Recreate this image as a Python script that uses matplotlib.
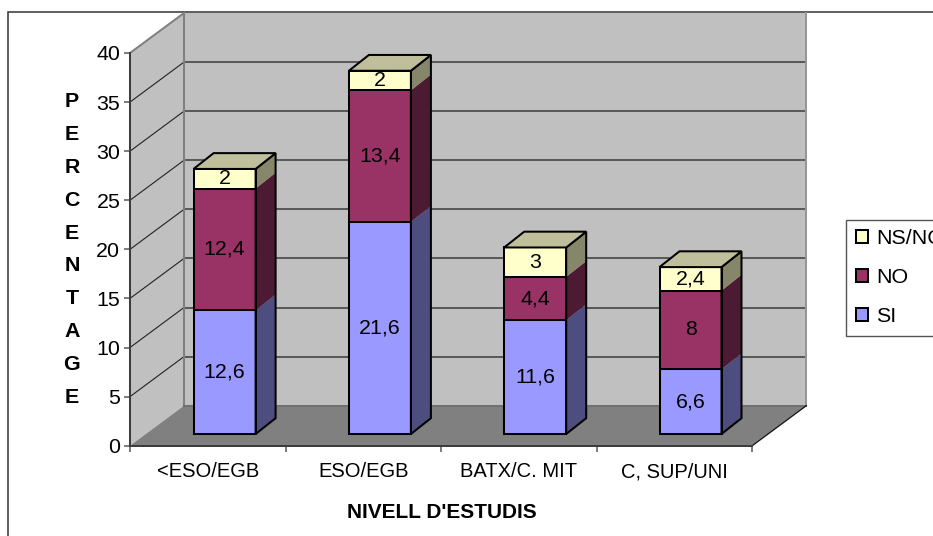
import matplotlib
matplotlib.use("Agg")
import matplotlib.pyplot as plt
from matplotlib.patches import Polygon, Rectangle, Patch

categories = ["<ESO/EGB", "ESO/EGB", "BATX/C. MIT", "C, SUP/UNI"]
si = [12.6, 21.6, 11.6, 6.6]
no = [12.4, 13.4, 4.4, 8]
ns_nc = [2, 2, 3, 2.4]
y_ticks = [0, 5, 10, 15, 20, 25, 30, 35, 40]

W, H = 933, 536
plt.rcParams["font.family"] = ["Liberation Sans", "DejaVu Sans"]
FS = 15.4
FS_CAT = 14.5
LW = 1.45

fig = plt.figure(figsize=(W / 100, H / 100), dpi=100)
# front plane of the 3d box, in pixels
x0, x1 = 130, 752.3
y0, y1 = 445.7, 53
ax = fig.add_axes([x0 / W, 1 - y0 / H, (x1 - x0) / W, (y0 - y1) / H])
ax.set_xlim(0, 4)
ax.set_ylim(0, 40)
ax.patch.set_visible(False)

px_x = 4 / (x1 - x0)
px_y = 40 / (y0 - y1)
dx, dy = 54 * px_x, 40 * px_y  # box depth


def poly(pts, **kw):
    kw.setdefault("clip_on", False)
    p = Polygon(pts, closed=True, **kw)
    ax.add_patch(p)
    return p


# walls and floor
poly([(0, 0), (dx, dy), (dx, 40 + dy), (0, 40)], fc="#C0C0C0", ec="none", zorder=1)
poly([(dx, dy), (4 + dx, dy), (4 + dx, 40 + dy), (dx, 40 + dy)], fc="#C0C0C0", ec="none", zorder=1)
poly([(0, 0), (4, 0), (4 + dx, dy), (dx, dy)], fc="#808080", ec="none", zorder=1)

# gridlines
for v in y_ticks[1:-1]:
    ax.plot([0, dx], [v, v + dy], color="#222222", lw=0.8, clip_on=False, zorder=2)
    ax.plot([dx, 4 + dx], [v + dy, v + dy], color="#5A5A5A", lw=LW, clip_on=False, zorder=2)
ax.plot([dx, dx], [dy, 40 + dy], color="#808080", lw=LW, clip_on=False, zorder=2)
ax.plot([4 + dx, 4 + dx], [dy, 40 + dy], color="#969696", lw=LW, clip_on=False, zorder=2)
ax.plot([0, dx], [40, 40 + dy], color="#808080", lw=LW, clip_on=False, zorder=2)
ax.plot([dx, 4 + dx], [dy, dy], color="#707070", lw=LW, clip_on=False, zorder=2)
ax.plot([4, 4 + dx], [0, dy], color="#111111", lw=0.9, clip_on=False, zorder=2)

# bars
series = [("SI", si, "#9999FF", "#4D4D80", "#7373BF"),
          ("NO", no, "#993366", "#4D1A33", "#732650"),
          ("NS/NC", ns_nc, "#FFFFCC", "#86866A", "#BFBF9C")]
bar_left = 63.6 * px_x
bar_step = 155.3 * px_x
bar_w = 62 * px_x
bar_dx, bar_dy = 20 * px_x, 15.8 * px_y
floor_y = 11.7 * px_y

for i in range(len(categories)):
    left = bar_left + i * bar_step
    right = left + bar_w
    bottom = floor_y
    for name, vals, c_front, c_side, c_top in series:
        top = bottom + vals[i]
        poly([(right, bottom), (right + bar_dx, bottom + bar_dy), (right + bar_dx, top + bar_dy), (right, top)],
             fc=c_side, ec="none", zorder=3)
        poly([(left, bottom), (right, bottom), (right, top), (left, top)],
             fc=c_front, ec="black", lw=LW, joinstyle="miter", zorder=4)
        ax.text((left + right) / 2, (bottom + top) / 2, f"{vals[i]:g}".replace(".", ","),
                ha="center", va="center", fontsize=FS, color="black", zorder=6)
        bottom = top
    poly([(right, floor_y), (right + bar_dx, floor_y + bar_dy), (right + bar_dx, bottom + bar_dy), (right, bottom)],
         fill=False, ec="black", lw=LW, joinstyle="miter", zorder=5)
    poly([(left, bottom), (right, bottom), (right + bar_dx, bottom + bar_dy), (left + bar_dx, bottom + bar_dy)],
         fc=series[2][4], ec="black", lw=LW, joinstyle="miter", zorder=5)

# axes
for s in ["top", "right"]:
    ax.spines[s].set_visible(False)
for s in ["left", "bottom"]:
    ax.spines[s].set_color("#3C3C3C")
    ax.spines[s].set_linewidth(LW)
    ax.spines[s].set_zorder(3)
ax.set_yticks(y_ticks)
ax.set_xticks(range(5))
ax.set_xticklabels([])
ax.set_xticks([0.5, 1.5, 2.5, 3.5], minor=True)
ax.set_xticklabels(categories, minor=True)
ax.tick_params(axis="both", which="major", length=4.5, width=1.1, color="#5A5A5A", labelsize=FS, pad=2.5)
ax.tick_params(axis="x", which="minor", length=0, labelsize=FS_CAT, pad=12)

fig.text(442 / W, 1 - 512 / H, "NIVELL D'ESTUDIS", ha="center", va="center",
         fontsize=15, fontweight="bold")
fig.text(72 / W, 1 - 249.5 / H, "\n".join("PERCENTAGE"), ha="center", va="center",
         fontsize=FS, fontweight="bold", linespacing=1.93)

handles = [Patch(fc=c[2], ec="black", lw=LW, label=c[0]) for c in reversed(series)]
fig.legend(handles=handles, loc="upper left", bbox_to_anchor=(846 / W, 1 - 219.5 / H),
           borderaxespad=0, fontsize=FS, fancybox=False, framealpha=1, edgecolor="#555555",
           handlelength=0.59, handleheight=0.59, handletextpad=0.38, borderpad=0.45, labelspacing=0.93)

# chart frame runs past the right and bottom edges
fig.add_artist(Rectangle((8 / W, -0.05), 1, 1.05 - 12 / H, transform=fig.transFigure,
                         fill=False, ec="#333333", lw=1.1, zorder=-1))

fig.savefig("out.png", dpi=100)
